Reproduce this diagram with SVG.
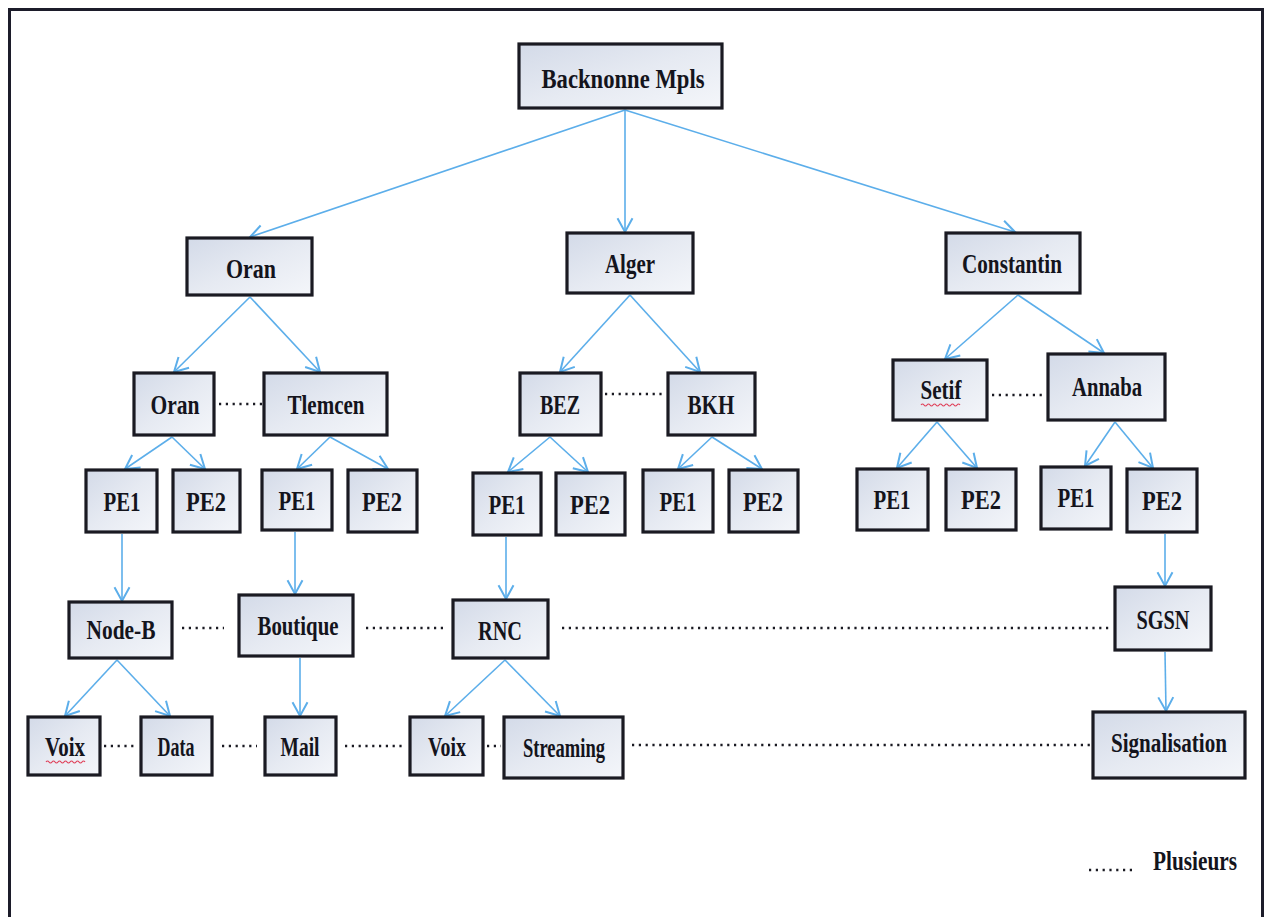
<svg xmlns="http://www.w3.org/2000/svg" width="1268" height="917" viewBox="0 0 1268 917">
  <defs>
    <linearGradient id="boxFill" x1="0" y1="0" x2="1" y2="1">
      <stop offset="0" stop-color="#d3dae8"/>
      <stop offset="0.5" stop-color="#e6eaf2"/>
      <stop offset="1" stop-color="#f4f6fa"/>
    </linearGradient>
    <marker id="arrow" markerUnits="userSpaceOnUse" markerWidth="20" markerHeight="20" viewBox="-12 -8 14 16" refX="0" refY="0" orient="auto">
      <path d="M-11,-6 L0,0 L-11,6" fill="none" stroke="#5caeea" stroke-width="1.6"/>
    </marker>
    <style>
      .box rect { fill: url(#boxFill); stroke: #1a1a22; stroke-width: 3.2; }
      .box text { font-family: "Liberation Serif", "Times New Roman", serif; font-weight: bold; font-size: 28px; fill: #14141c; text-anchor: middle; }
      .arr { stroke: #5caeea; stroke-width: 1.6; fill: none; marker-end: url(#arrow); }
      .dot { stroke: #1a1a22; stroke-width: 2.6; stroke-dasharray: 2.2 4.6; fill: none; }
      .squiggle { stroke: #e0405a; stroke-width: 1.2; fill: none; }
      .legend { font-family: "Liberation Serif", "Times New Roman", serif; font-weight: bold; font-size: 28px; fill: #14141c; }
    </style>
  </defs>

  <rect x="0" y="0" width="1268" height="917" fill="#ffffff"/>
  <!-- page frame -->
  <path d="M9.5,917 L9.5,9.5 L1262.5,9.5 L1262.5,917" fill="none" stroke="#1c1c2a" stroke-width="3"/>

  <!-- connectors -->
  <g id="connectors">
    <line class="arr" x1="625" y1="110" x2="250" y2="237"/>
    <line class="arr" x1="625" y1="110" x2="625" y2="232"/>
    <line class="arr" x1="625" y1="110" x2="1015" y2="232"/>

    <line class="arr" x1="250" y1="297" x2="174" y2="372"/>
    <line class="arr" x1="250" y1="297" x2="320" y2="372"/>
    <line class="arr" x1="630" y1="295" x2="560" y2="372"/>
    <line class="arr" x1="630" y1="295" x2="700" y2="372"/>
    <line class="arr" x1="1018" y1="295" x2="945" y2="359"/>
    <line class="arr" x1="1018" y1="295" x2="1104" y2="353"/>

    <line class="arr" x1="172" y1="437" x2="125" y2="469"/>
    <line class="arr" x1="172" y1="437" x2="205" y2="469"/>
    <line class="arr" x1="330" y1="437" x2="297" y2="469"/>
    <line class="arr" x1="330" y1="437" x2="388" y2="469"/>
    <line class="arr" x1="550" y1="437" x2="508" y2="472"/>
    <line class="arr" x1="550" y1="437" x2="588" y2="472"/>
    <line class="arr" x1="712" y1="437" x2="678" y2="469"/>
    <line class="arr" x1="712" y1="437" x2="762" y2="469"/>
    <line class="arr" x1="937" y1="422" x2="897" y2="468"/>
    <line class="arr" x1="937" y1="422" x2="977" y2="468"/>
    <line class="arr" x1="1115" y1="422" x2="1085" y2="466"/>
    <line class="arr" x1="1115" y1="422" x2="1153" y2="468"/>

    <line class="arr" x1="122" y1="534" x2="122" y2="601"/>
    <line class="arr" x1="295" y1="532" x2="295" y2="594"/>
    <line class="arr" x1="506" y1="537" x2="506" y2="599"/>
    <line class="arr" x1="1165" y1="534" x2="1165" y2="586"/>

    <line class="arr" x1="117" y1="660" x2="65" y2="716"/>
    <line class="arr" x1="117" y1="660" x2="170" y2="716"/>
    <line class="arr" x1="300" y1="658" x2="300" y2="716"/>
    <line class="arr" x1="505" y1="660" x2="445" y2="716"/>
    <line class="arr" x1="505" y1="660" x2="560" y2="716"/>
    <line class="arr" x1="1165" y1="652" x2="1166" y2="711"/>

    <!-- dotted "plusieurs" links -->
    <line class="dot" x1="219" y1="404" x2="262" y2="404"/>
    <line class="dot" x1="605" y1="394" x2="666" y2="394"/>
    <line class="dot" x1="992" y1="395" x2="1046" y2="395"/>
    <line class="dot" x1="182" y1="628" x2="224" y2="628"/>
    <line class="dot" x1="366" y1="628" x2="444" y2="628"/>
    <line class="dot" x1="562" y1="628" x2="1110" y2="628"/>
    <line class="dot" x1="104" y1="746" x2="136" y2="746"/>
    <line class="dot" x1="222" y1="746" x2="257" y2="746"/>
    <line class="dot" x1="345" y1="746" x2="402" y2="746"/>
    <line class="dot" x1="487" y1="746" x2="501" y2="746"/>
    <line class="dot" x1="632" y1="745" x2="1090" y2="745"/>
  </g>

  <!-- level 0 -->
  <g id="backbone" class="box"><rect x="519" y="44" width="203" height="64"/><text x="623" y="88" textLength="163" lengthAdjust="spacingAndGlyphs">Backnonne Mpls</text></g>

  <!-- level 1 -->
  <g id="oran-region" class="box"><rect x="187" y="238" width="125" height="57"/><text x="251" y="278" textLength="50" lengthAdjust="spacingAndGlyphs">Oran</text></g>
  <g id="alger" class="box"><rect x="567" y="233" width="126" height="60"/><text x="630" y="273" textLength="50" lengthAdjust="spacingAndGlyphs">Alger</text></g>
  <g id="constantin" class="box"><rect x="946" y="233" width="134" height="60"/><text x="1012" y="273" textLength="100" lengthAdjust="spacingAndGlyphs">Constantin</text></g>

  <!-- level 2 -->
  <g id="oran" class="box"><rect x="134" y="373" width="80" height="62"/><text x="175" y="414" textLength="49" lengthAdjust="spacingAndGlyphs">Oran</text></g>
  <g id="tlemcen" class="box"><rect x="264" y="373" width="123" height="62"/><text x="326" y="414" textLength="77" lengthAdjust="spacingAndGlyphs">Tlemcen</text></g>
  <g id="bez" class="box"><rect x="520" y="373" width="81" height="62"/><text x="560" y="414" textLength="40" lengthAdjust="spacingAndGlyphs">BEZ</text></g>
  <g id="bkh" class="box"><rect x="668" y="373" width="87" height="62"/><text x="711" y="414" textLength="47" lengthAdjust="spacingAndGlyphs">BKH</text></g>
  <g id="setif" class="box"><rect x="893" y="360" width="94" height="60"/><text x="941" y="399" textLength="41" lengthAdjust="spacingAndGlyphs">Setif</text><path class="squiggle" d="M921,405 q1.5,-2 3,0 t3,0 t3,0 t3,0 t3,0 t3,0 t3,0 t3,0 t3,0 t3,0 t3,0 t3,0 t3,0"/></g>
  <g id="annaba" class="box"><rect x="1048" y="354" width="117" height="66"/><text x="1107" y="396" textLength="70" lengthAdjust="spacingAndGlyphs">Annaba</text></g>

  <!-- level 3: provider edges -->
  <g id="oran-pe1" class="box"><rect x="86" y="470" width="71" height="62"/><text x="122" y="511" textLength="37" lengthAdjust="spacingAndGlyphs">PE1</text></g>
  <g id="oran-pe2" class="box"><rect x="173" y="470" width="67" height="62"/><text x="206" y="511" textLength="40" lengthAdjust="spacingAndGlyphs">PE2</text></g>
  <g id="tlemcen-pe1" class="box"><rect x="262" y="470" width="70" height="60"/><text x="297" y="510" textLength="37" lengthAdjust="spacingAndGlyphs">PE1</text></g>
  <g id="tlemcen-pe2" class="box"><rect x="348" y="470" width="69" height="62"/><text x="382" y="511" textLength="40" lengthAdjust="spacingAndGlyphs">PE2</text></g>
  <g id="bez-pe1" class="box"><rect x="473" y="473" width="68" height="62"/><text x="507" y="514" textLength="37" lengthAdjust="spacingAndGlyphs">PE1</text></g>
  <g id="bez-pe2" class="box"><rect x="556" y="473" width="69" height="62"/><text x="590" y="514" textLength="40" lengthAdjust="spacingAndGlyphs">PE2</text></g>
  <g id="bkh-pe1" class="box"><rect x="643" y="470" width="70" height="62"/><text x="678" y="511" textLength="37" lengthAdjust="spacingAndGlyphs">PE1</text></g>
  <g id="bkh-pe2" class="box"><rect x="729" y="470" width="69" height="62"/><text x="763" y="511" textLength="40" lengthAdjust="spacingAndGlyphs">PE2</text></g>
  <g id="setif-pe1" class="box"><rect x="857" y="469" width="71" height="61"/><text x="892" y="509" textLength="37" lengthAdjust="spacingAndGlyphs">PE1</text></g>
  <g id="setif-pe2" class="box"><rect x="946" y="469" width="70" height="61"/><text x="981" y="509" textLength="40" lengthAdjust="spacingAndGlyphs">PE2</text></g>
  <g id="annaba-pe1" class="box"><rect x="1041" y="467" width="70" height="62"/><text x="1076" y="507" textLength="37" lengthAdjust="spacingAndGlyphs">PE1</text></g>
  <g id="annaba-pe2" class="box"><rect x="1127" y="469" width="70" height="63"/><text x="1162" y="510" textLength="40" lengthAdjust="spacingAndGlyphs">PE2</text></g>

  <!-- level 4 -->
  <g id="node-b" class="box"><rect x="69" y="602" width="103" height="56"/><text x="121" y="639" textLength="69" lengthAdjust="spacingAndGlyphs">Node-B</text></g>
  <g id="boutique" class="box"><rect x="239" y="595" width="114" height="61"/><text x="298" y="635" textLength="81" lengthAdjust="spacingAndGlyphs">Boutique</text></g>
  <g id="rnc" class="box"><rect x="453" y="600" width="95" height="58"/><text x="500" y="640" textLength="44" lengthAdjust="spacingAndGlyphs">RNC</text></g>
  <g id="sgsn" class="box"><rect x="1115" y="587" width="96" height="63"/><text x="1163" y="629" textLength="53" lengthAdjust="spacingAndGlyphs">SGSN</text></g>

  <!-- level 5: services -->
  <g id="voix-1" class="box"><rect x="28" y="717" width="72" height="58"/><text x="65" y="756" textLength="40" lengthAdjust="spacingAndGlyphs">Voix</text><path class="squiggle" d="M46,762 q1.5,-2 3,0 t3,0 t3,0 t3,0 t3,0 t3,0 t3,0 t3,0 t3,0 t3,0 t3,0 t3,0 t3,0"/></g>
  <g id="data" class="box"><rect x="141" y="717" width="71" height="58"/><text x="176" y="756" textLength="37" lengthAdjust="spacingAndGlyphs">Data</text></g>
  <g id="mail" class="box"><rect x="265" y="717" width="71" height="58"/><text x="300" y="756" textLength="39" lengthAdjust="spacingAndGlyphs">Mail</text></g>
  <g id="voix-2" class="box"><rect x="410" y="717" width="73" height="58"/><text x="447" y="756" textLength="38" lengthAdjust="spacingAndGlyphs">Voix</text></g>
  <g id="streaming" class="box"><rect x="504" y="717" width="119" height="61"/><text x="564" y="757" textLength="82" lengthAdjust="spacingAndGlyphs">Streaming</text></g>
  <g id="signalisation" class="box"><rect x="1093" y="712" width="152" height="66"/><text x="1169" y="752" textLength="116" lengthAdjust="spacingAndGlyphs">Signalisation</text></g>

  <!-- legend -->
  <g id="legend">
    <line class="dot" x1="1089" y1="870" x2="1136" y2="870"/>
    <text class="legend" x="1153" y="870" textLength="84" lengthAdjust="spacingAndGlyphs">Plusieurs</text>
  </g>
</svg>
